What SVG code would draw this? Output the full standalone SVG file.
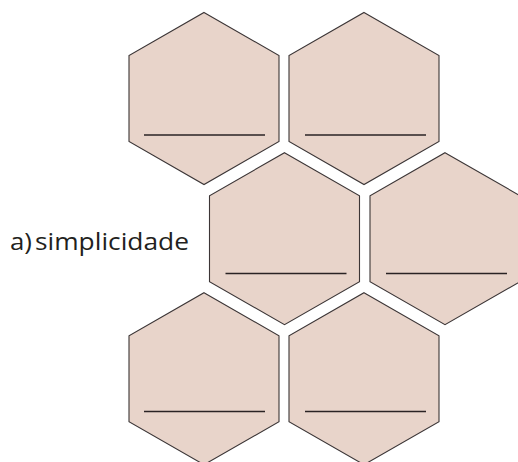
<svg xmlns="http://www.w3.org/2000/svg" width="518" height="462" viewBox="0 0 518 462">
<defs>
<style>
.hex{fill:#e8d4ca;stroke:#3b3536;stroke-width:1.1;stroke-linejoin:miter}
.ln{stroke:#2a2324;stroke-width:1.3}
.t{font-family:"Open Sans","Noto Sans","Liberation Sans",sans-serif;font-size:24px;fill:#231f20}
</style>
<polygon id="h" points="0,-86 75,-43 75,43 0,86 -75,43 -75,-43"/>
</defs>
<rect width="518" height="462" fill="#fff"/>
<g id="hex1" transform="translate(204,98.5)"><use href="#h" class="hex"/><line class="ln" x1="-60" y1="36.5" x2="61" y2="36.5"/></g>
<g id="hex2" transform="translate(364,98.5)"><use href="#h" class="hex"/><line class="ln" x1="-59" y1="36.5" x2="62" y2="36.5"/></g>
<g id="hex3" transform="translate(284.5,238.7)"><use href="#h" class="hex"/><line class="ln" x1="-59" y1="34.8" x2="62" y2="34.8"/></g>
<g id="hex4" transform="translate(445,238.7)"><use href="#h" class="hex"/><line class="ln" x1="-59" y1="34.8" x2="62" y2="34.8"/></g>
<g id="hex5" transform="translate(204,378.7)"><use href="#h" class="hex"/><line class="ln" x1="-60" y1="32.8" x2="61" y2="32.8"/></g>
<g id="hex6" transform="translate(364,378.7)"><use href="#h" class="hex"/><line class="ln" x1="-59" y1="32.8" x2="62" y2="32.8"/></g>
<g id="label">
<text class="t" x="10" y="250" textLength="22" lengthAdjust="spacingAndGlyphs">a)</text>
<text class="t" x="35" y="250" textLength="154" lengthAdjust="spacingAndGlyphs">simplicidade</text>
</g>
<g id="connectors"/>
</svg>
